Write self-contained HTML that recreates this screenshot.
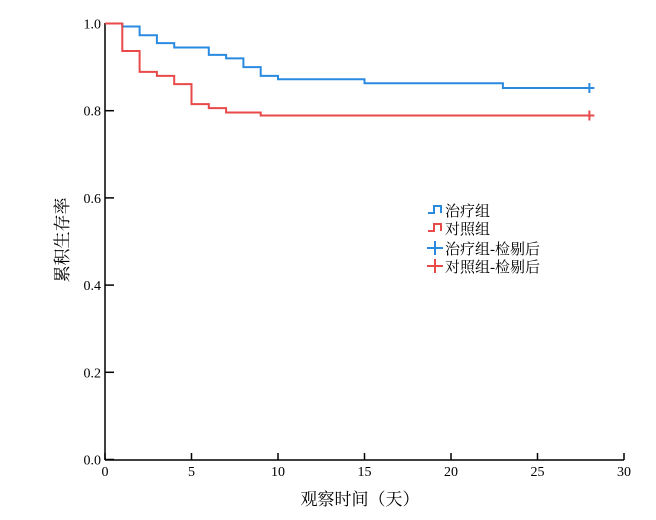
<!DOCTYPE html>
<html><head><meta charset="utf-8"><style>
body{margin:0;background:#fff}
text{font-family:"Liberation Serif","Noto Serif CJK SC","Noto Sans CJK SC",serif;fill:#000}
</style></head><body>
<svg id="c" width="656" height="515" xmlns="http://www.w3.org/2000/svg"></svg>
<script>
const xTicks=[0,5,10,15,20,25,30];
const yTicks=[0,0.2,0.4,0.6,0.8,1.0];
const yTickLabels=["0.0","0.2","0.4","0.6","0.8","1.0"];
const treatTimes=[0,1,2,3,4,6,7,8,9,10,15,23,28];
const treatSurv=[1,0.993,0.973,0.955,0.945,0.928,0.92,0.9,0.88,0.872,0.863,0.852,0.852];
const ctrlTimes=[0,1,2,3,4,5,6,7,9,28];
const ctrlSurv=[1,0.937,0.889,0.88,0.861,0.815,0.806,0.796,0.789,0.789];
const legendLabels=["治疗组","对照组","治疗组-检剔后","对照组-检剔后"];
const blue="#2a8ae0",red="#e84a4a";
const svg=document.getElementById('c');
const NS="http://www.w3.org/2000/svg";
const X=t=>105+t*(519/30);
const Y=v=>459.5-v*436;
function mk(tag,attrs,parent){const e=document.createElementNS(NS,tag);for(const k in attrs)e.setAttribute(k,attrs[k]);(parent||svg).appendChild(e);return e;}
// axes
let a=mk('line',{x1:105,y1:23,x2:105,y2:460,stroke:'#000','stroke-width':1.5});


a=mk('line',{x1:105,y1:460,x2:624,y2:460,stroke:'#000','stroke-width':1.5});


xTicks.forEach(t=>{
  const l=mk('line',{x1:X(t),y1:460,x2:X(t),y2:453,stroke:'#000','stroke-width':1.5});
  
  
  const tx=mk('text',{x:X(t),y:476,'text-anchor':'middle','font-size':14});
  tx.textContent=t;
  
  
});
yTicks.forEach((v,i)=>{
  const l=mk('line',{x1:105,y1:Y(v),x2:114,y2:Y(v),stroke:'#000','stroke-width':1.5});
  
  
  const tx=mk('text',{x:101,y:Y(v)+5,'text-anchor':'end','font-size':14});
  tx.textContent=yTickLabels[i];
  
  
});
let t=mk('text',{x:0,y:0,'text-anchor':'middle','font-size':17,transform:'translate(68,240) rotate(-90)'});
t.textContent='累积生存率';


t=mk('text',{x:360,y:505,'text-anchor':'middle','font-size':17});
t.textContent='观察时间（天）';


function step(times,surv,color,name){
  let d=`M${X(times[0])},${Y(surv[0])}`;
  for(let i=1;i<times.length;i++){d+=` H${X(times[i])} V${Y(surv[i])}`;}
  const p=mk('path',{d,fill:'none',stroke:color,'stroke-width':2});
  
  
  const n=times.length-1,cx=X(times[n]),cy=Y(surv[n]);
  const c=mk('path',{d:`M${cx-5},${cy} H${cx+5} M${cx},${cy-5} V${cy+5}`,stroke:color,'stroke-width':2});
  
  
}
step(treatTimes,treatSurv,blue,'treatment-curve');
step(ctrlTimes,ctrlSurv,red,'control-curve');
// legend
const ly=[210,228,248,266];
legendLabels.forEach((lab,i)=>{
  const col=i%2===0?blue:red;const y=ly[i];
  const g=mk('g',{});
  
  
  if(i<2) mk('path',{d:`M428,${y+3} H434 V${y-4} H441 V${y+3}`,fill:'none',stroke:col,'stroke-width':2},g);
  else mk('path',{d:`M427,${y} H443 M435,${y-7} V${y+7}`,stroke:col,'stroke-width':2},g);
  const tx=mk('text',{x:445,y:y+6,'font-size':15},g);
  tx.textContent=lab;
});
</script>
</body></html>
